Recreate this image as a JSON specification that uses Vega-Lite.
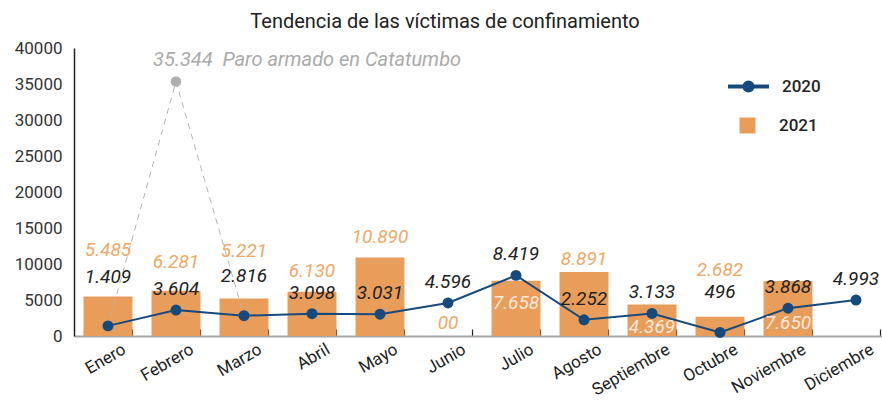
{
  "$schema": "https://vega.github.io/schema/vega-lite/v6.json",
  "autosize": {"type": "none"},
  "padding": {"left": 74, "top": 48, "right": 0, "bottom": 65},
  "width": 808,
  "height": 288,
  "background": "white",
  "title": {"text": "Tendencia de las víctimas de confinamiento", "font": "Roboto", "fontSize": 20, "fontWeight": "normal", "color": "#222222", "anchor": "middle", "frame": "group", "dx": -33, "offset": 7},
  "config": {"view": {"stroke": null}, "font": "Roboto",
    "axis": {"labelOverlap": false},
    "axisY": {"labelOverlap": false, "labelBound": false, "grid": false, "ticks": false, "labelFontSize": 17, "labelColor": "#333333", "labelPadding": 12, "domainColor": "#222222", "domainWidth": 1.5, "labelFont": "Roboto", "title": null, "format": "d"}
  },
  "datasets": {
    "main": [
      {"mes": "Enero", "v2020": 1409, "v2021": 5485, "l2020": "1.409", "l2021": "5.485"},
      {"mes": "Febrero", "v2020": 3604, "v2021": 6281, "l2020": "3.604", "l2021": "6.281"},
      {"mes": "Marzo", "v2020": 2816, "v2021": 5221, "l2020": "2.816", "l2021": "5.221"},
      {"mes": "Abril", "v2020": 3098, "v2021": 6130, "l2020": "3.098", "l2021": "6.130"},
      {"mes": "Mayo", "v2020": 3031, "v2021": 10890, "l2020": "3.031", "l2021": "10.890"},
      {"mes": "Junio", "v2020": 4596, "v2021": 0, "l2020": "4.596", "l2021": "00"},
      {"mes": "Julio", "v2020": 8419, "v2021": 7658, "l2020": "8.419", "l2021": "7.658"},
      {"mes": "Agosto", "v2020": 2252, "v2021": 8891, "l2020": "2.252", "l2021": "8.891"},
      {"mes": "Septiembre", "v2020": 3133, "v2021": 4369, "l2020": "3.133", "l2021": "4.369"},
      {"mes": "Octubre", "v2020": 496, "v2021": 2682, "l2020": "496", "l2021": "2.682"},
      {"mes": "Noviembre", "v2020": 3868, "v2021": 7650, "l2020": "3.868", "l2021": "7.650"},
      {"mes": "Diciembre", "v2020": 4993, "v2021": null, "l2020": "4.993", "l2021": null}
    ],
    "paro": [
      {"mes": "Enero", "v": 1409, "nota": null},
      {"mes": "Febrero", "v": 35344, "nota": "35.344\u00a0\u00a0Paro armado en Catatumbo"},
      {"mes": "Marzo", "v": 2816, "nota": null}
    ]
  },
  "data": {"name": "main"},
  "encoding": {
    "x": {
      "field": "mes", "type": "nominal", "sort": null,
      "scale": {"domain": ["Enero","Febrero","Marzo","Abril","Mayo","Junio","Julio","Agosto","Septiembre","Octubre","Noviembre","Diciembre"], "range": [0, 816], "paddingInner": 0.28, "paddingOuter": 0.14},
      "axis": {"title": null, "labelAngle": -30, "labelAlign": "right", "labelBaseline": "top", "labelOffset": 12, "labelFontSize": 17, "labelColor": "#222222", "labelPadding": 12, "labelOverlap": false, "labelBound": false, "domainColor": "#A6A6A6", "domainWidth": 2, "tickColor": "#222222", "tickWidth": 1.2, "tickSize": -7, "tickBand": "extent", "labelFont": "Roboto"}
    }
  },
  "layer": [
    {
      "mark": {"type": "bar"},
      "encoding": {
        "y": {"field": "v2021", "type": "quantitative", "scale": {"domain": [0, 40000], "nice": false}, "axis": {"values": [0,5000,10000,15000,20000,25000,30000,35000,40000], "labelOverlap": false}},
        "fill": {"datum": "2021", "scale": {"domain": ["2021"], "range": ["#E99D5A"]},
                 "legend": {"title": null, "orient": "none", "legendX": 665, "legendY": 69, "padding": 0, "symbolType": "square", "symbolSize": 256, "symbolStrokeWidth": 0, "labelFontSize": 17, "labelFontWeight": 500, "labelColor": "#222222", "labelOffset": 23, "labelFont": "Roboto"}}
      }
    },
    {
      "data": {"name": "paro"},
      "mark": {"type": "line", "color": "#B3B3B3", "strokeWidth": 1, "strokeDash": [6, 5]},
      "encoding": {"y": {"field": "v", "type": "quantitative", "axis": {"values": [0,5000,10000,15000,20000,25000,30000,35000,40000], "labelOverlap": false}}}
    },
    {
      "data": {"name": "paro"},
      "transform": [{"filter": "datum.nota != null"}],
      "mark": {"type": "point", "filled": true, "color": "#AFAFAF", "size": 110, "opacity": 1},
      "encoding": {"y": {"field": "v", "type": "quantitative", "axis": {"values": [0,5000,10000,15000,20000,25000,30000,35000,40000], "labelOverlap": false}}}
    },
    {
      "data": {"name": "paro"},
      "transform": [{"filter": "datum.nota != null"}],
      "mark": {"type": "text", "align": "left", "baseline": "middle", "dx": -23, "dy": -22, "fontSize": 20, "fontStyle": "italic", "color": "#AAAAAA"},
      "encoding": {"y": {"field": "v", "type": "quantitative", "axis": {"values": [0,5000,10000,15000,20000,25000,30000,35000,40000], "labelOverlap": false}}, "text": {"field": "nota"}}
    },
    {
      "mark": {"type": "line", "strokeWidth": 2},
      "encoding": {
        "y": {"field": "v2020", "type": "quantitative", "axis": {"values": [0,5000,10000,15000,20000,25000,30000,35000,40000], "labelOverlap": false}},
        "stroke": {"datum": "2020", "scale": {"domain": ["2020"], "range": ["#174A7C"]},
                   "legend": {"title": null, "orient": "none", "legendX": 652, "legendY": 16, "padding": 0, "symbolType": "M-1,0H1M-0.2,0A0.2,0.2 0 1,1 0.2,0A0.2,0.2 0 1,1 -0.2,0Z", "symbolSize": 1681, "symbolStrokeWidth": 4, "symbolFillColor": "#174A7C", "labelFontSize": 17, "labelFontWeight": 500, "labelColor": "#222222", "labelOffset": 11, "labelFont": "Roboto",
                              "encode": {"symbols": {"update": {"fill": {"value": "#174A7C"}, "stroke": {"value": "#174A7C"}, "strokeWidth": {"value": 4}}}}}}
      }
    },
    {
      "mark": {"type": "point", "filled": true, "color": "#174A7C", "size": 120, "opacity": 1},
      "encoding": {"y": {"field": "v2020", "type": "quantitative", "axis": {"values": [0,5000,10000,15000,20000,25000,30000,35000,40000], "labelOverlap": false}}}
    },
    {
      "transform": [{"filter": {"field": "mes", "oneOf": ["Enero", "Marzo", "Octubre"]}}],
      "mark": {"type": "text", "baseline": "middle", "dy": -47, "fontSize": 19, "fontStyle": "italic", "color": "#F0A866"},
      "encoding": {"y": {"field": "v2021", "type": "quantitative", "axis": {"values": [0,5000,10000,15000,20000,25000,30000,35000,40000], "labelOverlap": false}}, "text": {"field": "l2021"}}
    },
    {
      "transform": [{"filter": {"field": "mes", "oneOf": ["Febrero"]}}],
      "mark": {"type": "text", "baseline": "middle", "dy": -29, "fontSize": 19, "fontStyle": "italic", "color": "#F0A866"},
      "encoding": {"y": {"field": "v2021", "type": "quantitative", "axis": {"values": [0,5000,10000,15000,20000,25000,30000,35000,40000], "labelOverlap": false}}, "text": {"field": "l2021"}}
    },
    {
      "transform": [{"filter": {"field": "mes", "oneOf": ["Abril", "Mayo"]}}],
      "mark": {"type": "text", "baseline": "middle", "dy": -21, "fontSize": 19, "fontStyle": "italic", "color": "#F0A866"},
      "encoding": {"y": {"field": "v2021", "type": "quantitative", "axis": {"values": [0,5000,10000,15000,20000,25000,30000,35000,40000], "labelOverlap": false}}, "text": {"field": "l2021"}}
    },
    {
      "transform": [{"filter": {"field": "mes", "oneOf": ["Junio", "Agosto"]}}],
      "mark": {"type": "text", "baseline": "middle", "dy": -13, "fontSize": 19, "fontStyle": "italic", "color": "#F0A866"},
      "encoding": {"y": {"field": "v2021", "type": "quantitative", "axis": {"values": [0,5000,10000,15000,20000,25000,30000,35000,40000], "labelOverlap": false}}, "text": {"field": "l2021"}}
    },
    {
      "transform": [{"filter": {"field": "mes", "oneOf": ["Julio", "Septiembre"]}}],
      "mark": {"type": "text", "baseline": "middle", "dy": 22, "fontSize": 19, "fontStyle": "italic", "color": "#FBE9DA"},
      "encoding": {"y": {"field": "v2021", "type": "quantitative", "axis": {"values": [0,5000,10000,15000,20000,25000,30000,35000,40000], "labelOverlap": false}}, "text": {"field": "l2021"}}
    },
    {
      "transform": [{"filter": {"field": "mes", "oneOf": ["Noviembre"]}}],
      "mark": {"type": "text", "baseline": "middle", "dy": 42, "fontSize": 19, "fontStyle": "italic", "color": "#FBE9DA"},
      "encoding": {"y": {"field": "v2021", "type": "quantitative", "axis": {"values": [0,5000,10000,15000,20000,25000,30000,35000,40000], "labelOverlap": false}}, "text": {"field": "l2021"}}
    },
    {
      "transform": [{"filter": {"field": "mes", "oneOf": ["Enero"]}}],
      "mark": {"type": "text", "baseline": "middle", "dy": -49, "fontSize": 19, "fontStyle": "italic", "color": "#222222"},
      "encoding": {"y": {"field": "v2020", "type": "quantitative", "axis": {"values": [0,5000,10000,15000,20000,25000,30000,35000,40000], "labelOverlap": false}}, "text": {"field": "l2020"}}
    },
    {
      "transform": [{"filter": {"field": "mes", "oneOf": ["Marzo", "Octubre"]}}],
      "mark": {"type": "text", "baseline": "middle", "dy": -40, "fontSize": 19, "fontStyle": "italic", "color": "#222222"},
      "encoding": {"y": {"field": "v2020", "type": "quantitative", "axis": {"values": [0,5000,10000,15000,20000,25000,30000,35000,40000], "labelOverlap": false}}, "text": {"field": "l2020"}}
    },
    {
      "transform": [{"filter": {"not": {"field": "mes", "oneOf": ["Enero", "Marzo", "Octubre"]}}}],
      "mark": {"type": "text", "baseline": "middle", "dy": -21, "fontSize": 19, "fontStyle": "italic", "color": "#222222"},
      "encoding": {"y": {"field": "v2020", "type": "quantitative", "axis": {"values": [0,5000,10000,15000,20000,25000,30000,35000,40000], "labelOverlap": false}}, "text": {"field": "l2020"}}
    }
  ]
}
